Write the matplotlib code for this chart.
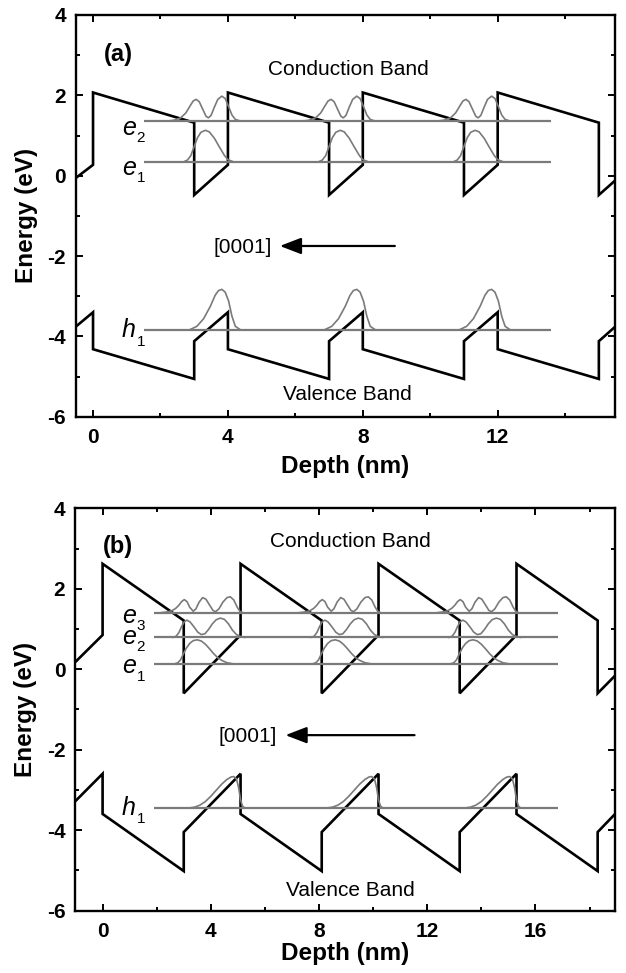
import matplotlib
matplotlib.use('Agg')
import matplotlib.pyplot as plt
from matplotlib.ticker import MultipleLocator, FuncFormatter
import numpy as np

plt.rcParams['font.family'] = ['Liberation Sans', 'DejaVu Sans']

# ---------------- Panel (a) data ----------------
depth_a = [-0.5, 0, 0, 3, 3, 4, 4, 7, 7, 8, 8, 11, 11, 12, 12, 15, 15, 15.47]
cb_a = [-0.05, 0.27, 2.07, 1.32, -0.48, 0.27, 2.07, 1.32, -0.48, 0.27, 2.07,
        1.32, -0.48, 0.27, 2.07, 1.32, -0.48, -0.13]
vb_a = [-3.75, -3.4, -4.32, -5.06, -4.12, -3.4, -4.32, -5.06, -4.12, -3.4,
        -4.32, -5.06, -4.12, -3.4, -4.32, -5.06, -4.12, -3.77]
level_energy_a = [1.36, 0.35, -3.83]          # e2, e1, h1
level_span_a = [1.5, 13.57]
well_shift_a = [0, 4, 8]

e2a_x = [2.20, 2.40, 2.60, 2.75, 2.88, 2.97, 3.06, 3.15, 3.25, 3.35, 3.42, 3.50,
         3.60, 3.70, 3.82, 3.92, 4.02, 4.12, 4.22, 4.37]
e2a_amp = [0.0, 0.02, 0.08, 0.20, 0.38, 0.50, 0.54, 0.48, 0.30, 0.12, 0.08, 0.14,
           0.35, 0.54, 0.62, 0.56, 0.36, 0.15, 0.04, 0.0]
e1a_x = [2.70, 2.80, 2.90, 3.00, 3.10, 3.20, 3.33, 3.45, 3.60, 3.75, 3.90, 4.00, 4.15]
e1a_amp = [0.0, 0.04, 0.15, 0.38, 0.60, 0.73, 0.78, 0.74, 0.58, 0.36, 0.15, 0.05, 0.0]
h1a_x = [2.88, 3.08, 3.28, 3.48, 3.62, 3.72, 3.82, 3.92, 4.02, 4.12, 4.22, 4.36]
h1a_amp = [0.0, 0.08, 0.27, 0.58, 0.85, 0.97, 1.0, 0.93, 0.71, 0.33, 0.08, 0.0]

# label text, subscript, letter pos, subscript pos
labels_a = [('e', '2', 1.08, 1.19, 1.42, 0.93),
            ('e', '1', 1.08, 0.20, 1.42, -0.07),
            ('h', '1', 1.06, -3.83, 1.42, -4.13)]

# ---------------- Panel (b) data ----------------
depth_b = [-1.02, 0, 0, 3, 3, 5.1, 5.1, 8.1, 8.1, 10.2, 10.2, 13.2, 13.2, 15.3,
           15.3, 18.3, 18.3, 18.93]
cb_b = [0.17, 0.85, 2.62, 1.21, -0.6, 0.85, 2.62, 1.21, -0.6, 0.85, 2.62, 1.21,
        -0.6, 0.85, 2.62, 1.21, -0.6, -0.17]
vb_b = [-3.29, -2.6, -3.6, -5.02, -4.05, -2.6, -3.6, -5.02, -4.05, -2.6, -3.6,
        -5.02, -4.05, -2.6, -3.6, -5.02, -4.05, -3.61]
level_energy_b = [1.40, 0.79, 0.13, -3.45]    # e3, e2, e1, h1
level_span_b = [1.9, 16.84]
well_shift_b = [0, 5.1, 10.2]

e3b_x = [2.10, 2.35, 2.55, 2.70, 2.82, 2.92, 3.02, 3.12, 3.22, 3.35, 3.45, 3.57,
         3.70, 3.82, 3.95, 4.08, 4.18, 4.30, 4.45, 4.60, 4.72, 4.85, 4.97, 5.07,
         5.20]
e3b_amp = [0.0, 0.02, 0.05, 0.11, 0.19, 0.28, 0.33, 0.28, 0.14, 0.04, 0.10, 0.27,
           0.38, 0.34, 0.20, 0.06, 0.03, 0.10, 0.27, 0.38, 0.40, 0.32, 0.15, 0.04,
           0.0]
e2b_x = [2.60, 2.72, 2.82, 2.92, 3.02, 3.12, 3.24, 3.38, 3.52, 3.65, 3.78, 3.92,
         4.06, 4.20, 4.35, 4.50, 4.65, 4.80, 4.95, 5.10, 5.25]
e2b_amp = [0.0, 0.03, 0.12, 0.27, 0.39, 0.43, 0.38, 0.26, 0.13, 0.07, 0.09, 0.20,
           0.34, 0.44, 0.48, 0.45, 0.34, 0.18, 0.07, 0.02, 0.0]
e1b_x = [2.65, 2.78, 2.88, 2.98, 3.10, 3.22, 3.35, 3.50, 3.65, 3.80, 3.95, 4.10,
         4.25, 4.40, 4.60, 4.85]
e1b_amp = [0.0, 0.03, 0.10, 0.24, 0.40, 0.51, 0.58, 0.60, 0.57, 0.49, 0.38, 0.26,
           0.16, 0.09, 0.03, 0.0]
h1b_x = [3.20, 3.40, 3.60, 3.80, 4.00, 4.20, 4.40, 4.60, 4.75, 4.85, 4.95, 5.03,
         5.10, 5.17, 5.25]
h1b_amp = [0.0, 0.02, 0.07, 0.16, 0.29, 0.44, 0.59, 0.71, 0.77, 0.78, 0.72, 0.50,
           0.20, 0.05, 0.0]

labels_b = [('e', '3', 0.98, 1.33, 1.41, 1.08),
            ('e', '2', 0.98, 0.79, 1.41, 0.54),
            ('e', '1', 0.98, 0.09, 1.41, -0.20),
            ('h', '1', 0.96, -3.44, 1.41, -3.73)]

GRAY = '#7a7a7a'


def draw_panel(ax, depth, cb, vb, levels, span, waves, shifts, labels,
               xlim, tag, tag_pos, cond_pos, val_pos, dir_pos, arrow_tail,
               arrow_tip, xlabel_y):
    # bands
    ax.plot(depth, cb, color='black', lw=1.9, solid_joinstyle='miter')
    ax.plot(depth, vb, color='black', lw=1.9, solid_joinstyle='miter')
    # levels
    for e in levels:
        ax.plot(span, [e, e], color=GRAY, lw=1.6, solid_capstyle='butt')
    # wavefunctions
    for (wx, wamp, e) in waves:
        for s in shifts:
            ax.plot(np.array(wx) + s, e + np.array(wamp), color=GRAY, lw=1.2)
    # level labels
    for (m, sub, x, y, sx, sy) in labels:
        ax.text(x, y, m, fontsize=18, style='italic', ha='center', va='center')
        ax.text(sx, sy, sub, fontsize=11, ha='center', va='center')
    ax.text(tag_pos[0], tag_pos[1], tag, fontsize=17, fontweight='bold',
            ha='center', va='center')
    ax.text(cond_pos[0], cond_pos[1], 'Conduction Band', fontsize=15,
            ha='center', va='center')
    ax.text(val_pos[0], val_pos[1], 'Valence Band', fontsize=15,
            ha='center', va='center')
    ax.text(dir_pos[0], dir_pos[1], '[0001]', fontsize=15, ha='center',
            va='center')
    ax.annotate('', xy=arrow_tip, xytext=arrow_tail,
                arrowprops=dict(arrowstyle='-|>,head_length=1.3,head_width=0.5',
                                color='black', lw=1.6, shrinkA=0, shrinkB=0))

    ax.set_xlim(*xlim)
    ax.set_ylim(-6, 4)
    ax.xaxis.set_major_locator(MultipleLocator(4))
    ax.xaxis.set_minor_locator(MultipleLocator(2))
    ax.yaxis.set_major_locator(MultipleLocator(2))
    ax.yaxis.set_minor_locator(MultipleLocator(1))
    ax.yaxis.set_major_formatter(FuncFormatter(lambda v, p: '%d' % v))
    ax.tick_params(which='both', direction='in', top=True, right=True,
                   width=1.4, labelsize=15)
    ax.tick_params(which='major', length=5)
    ax.tick_params(which='minor', length=2.6)
    ax.tick_params(axis='y', pad=7)
    ax.tick_params(axis='x', pad=8)
    for lab in ax.get_xticklabels() + ax.get_yticklabels():
        lab.set_fontweight('bold')
    for sp in ax.spines.values():
        sp.set_linewidth(1.7)
    ax.set_xlabel('Depth (nm)', fontsize=17.5, fontweight='bold')
    ax.set_ylabel('Energy (eV)', fontsize=17.5, fontweight='bold')
    ax.yaxis.set_label_coords(-0.07, 0.5)
    ax.xaxis.set_label_coords(0.5, xlabel_y)


fig = plt.figure(figsize=(6.26, 9.73), dpi=100)
W, H = 626.0, 973.0
ax_a = fig.add_axes([75.5 / W, 1 - 416.7 / H, (614.7 - 75.5) / W, (416.7 - 15.0) / H])
ax_b = fig.add_axes([75.0 / W, 1 - 910.5 / H, (614.7 - 75.0) / W, (910.5 - 508.3) / H])

waves_a = [(e2a_x, e2a_amp, level_energy_a[0]),
           (e1a_x, e1a_amp, level_energy_a[1]),
           (h1a_x, h1a_amp, level_energy_a[2])]
waves_b = [(e3b_x, e3b_amp, level_energy_b[0]),
           (e2b_x, e2b_amp, level_energy_b[1]),
           (e1b_x, e1b_amp, level_energy_b[2]),
           (h1b_x, h1b_amp, level_energy_b[3])]

draw_panel(ax_a, depth_a, cb_a, vb_a, level_energy_a, level_span_a, waves_a,
           well_shift_a, labels_a, (-0.52, 15.47), '(a)', (0.75, 3.02),
           (7.57, 2.65), (7.55, -5.44), (4.43, -1.79), (8.95, -1.75),
           (5.54, -1.75), -0.095)
draw_panel(ax_b, depth_b, cb_b, vb_b, level_energy_b, level_span_b, waves_b,
           well_shift_b, labels_b, (-1.02, 18.93), '(b)', (0.55, 3.05),
           (9.16, 3.17), (9.17, -5.5), (5.37, -1.68), (11.53, -1.64),
           (6.76, -1.64), -0.078)

fig.savefig('out.png', dpi=100)
